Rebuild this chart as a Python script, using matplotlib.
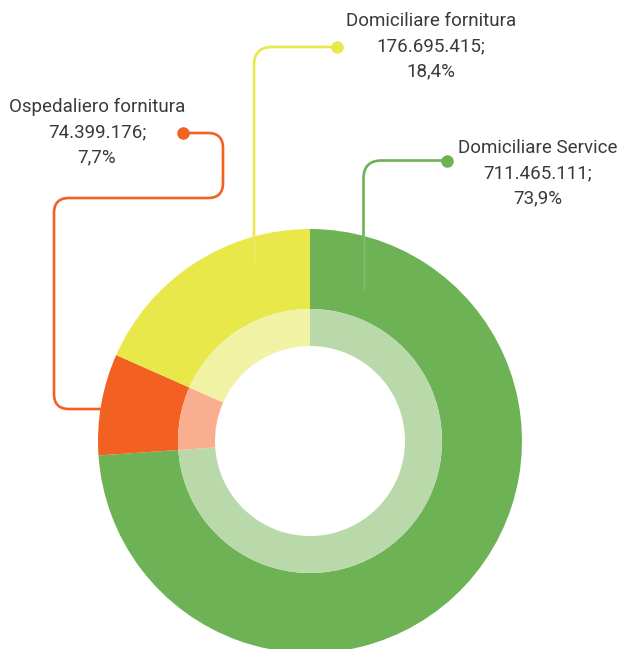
import matplotlib
matplotlib.use("Agg")
import matplotlib.pyplot as plt
from matplotlib.path import Path
from matplotlib.patches import PathPatch

# data
labels = ["Domiciliare Service", "Ospedaliero fornitura", "Domiciliare fornitura"]
values = [711465111, 74399176, 176695415]
value_txt = ["711.465.111;", "74.399.176;", "176.695.415;"]
pct_txt = ["73,9%", "7,7%", "18,4%"]
colors = ["#6db356", "#f26122", "#e9e84b"]
light = ["#b9d9aa", "#f9ae8f", "#f2f2a5"]

W, H = 621, 649
cx, cy = 310, 441

fig = plt.figure(figsize=(W / 100, H / 100), dpi=100)
ax = fig.add_axes([0, 0, 1, 1])

# outer ring
ax.pie(values, colors=colors, center=(cx, cy), radius=212,
       startangle=-90, counterclock=True,
       wedgeprops=dict(width=212 - 132, linewidth=0))
# inner light ring
ax.pie(values, colors=light, center=(cx, cy), radius=132,
       startangle=-90, counterclock=True,
       wedgeprops=dict(width=132 - 95, linewidth=0))
for w in ax.patches:
    w.set_zorder(3)
ax.set_xlim(0, W)
ax.set_ylim(H, 0)
ax.set_aspect("equal")
ax.axis("off")


def rounded(pts, r):
    verts = [pts[0]]
    codes = [Path.MOVETO]
    for i in range(1, len(pts) - 1):
        p0, p1, p2 = pts[i - 1], pts[i], pts[i + 1]
        d1 = ((p1[0] - p0[0]), (p1[1] - p0[1]))
        l1 = (d1[0] ** 2 + d1[1] ** 2) ** 0.5
        d2 = ((p2[0] - p1[0]), (p2[1] - p1[1]))
        l2 = (d2[0] ** 2 + d2[1] ** 2) ** 0.5
        a = (p1[0] - d1[0] / l1 * r, p1[1] - d1[1] / l1 * r)
        b = (p1[0] + d2[0] / l2 * r, p1[1] + d2[1] / l2 * r)
        verts += [a, p1, b]
        codes += [Path.LINETO, Path.CURVE3, Path.CURVE3]
    verts.append(pts[-1])
    codes.append(Path.LINETO)
    return Path(verts, codes)


leaders = [
    [(447, 160.5), (363.5, 160.5), (363.5, 237)],
    [(183, 133), (223, 133), (223, 198), (54, 198), (54, 409), (101, 409)],
    [(337, 47), (254, 47), (254, 237)],
]
inside = [
    [(363.5, 236), (363.5, 288)],
    None,
    [(254, 236), (254, 263)],
]
radii = [18, 15, 18]
for pts, ins, r, c in zip(leaders, inside, radii, colors):
    ax.add_patch(PathPatch(rounded(pts, r), fill=False, edgecolor=c,
                           linewidth=1.9, zorder=2, capstyle="butt"))
    ax.plot(pts[0][0], pts[0][1], "o", color=c, markersize=8, zorder=4)
    if ins:
        ax.plot([p[0] for p in ins], [p[1] for p in ins], color="white",
                linewidth=1.9, alpha=0.1, zorder=4)

# labels
label_pos = [(538, 148), (97, 107), (431, 21)]
for (x, y), name, v, p in zip(label_pos, labels, value_txt, pct_txt):
    for k, s in enumerate([name, v, p]):
        ax.text(x, y + k * 25, s, ha="center", va="center", fontsize=13.5,
                family="Roboto", color="#3a3a3a")

fig.savefig("out.png", dpi=100)
